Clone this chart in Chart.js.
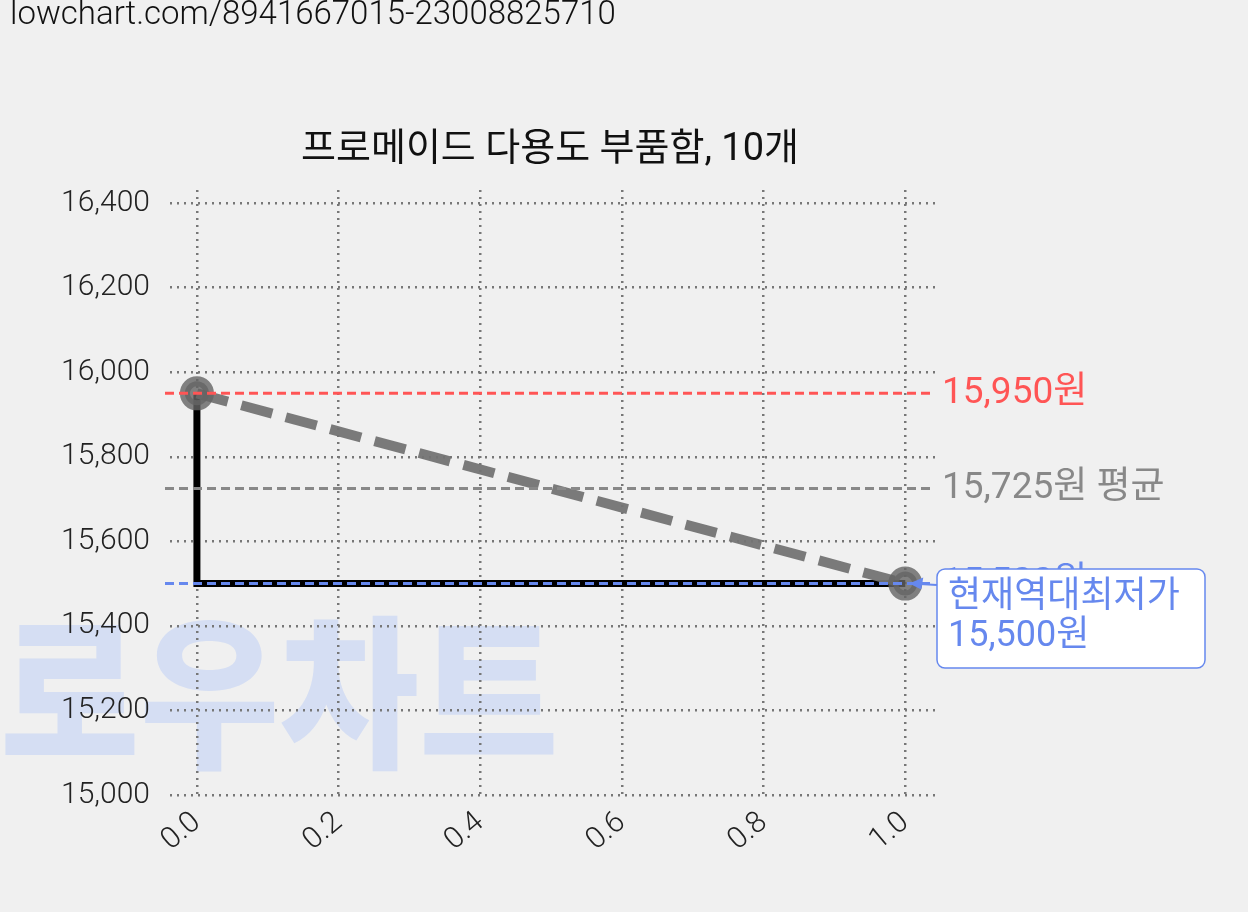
<!DOCTYPE html>
<html><head><meta charset="utf-8">
<script src="https://cdn.jsdelivr.net/npm/chart.js@4"></script>
<style>html,body{margin:0;padding:0;background:#f0f0f0}</style>
</head><body>
<canvas id="c" width="1248" height="912" style="width:1248px;height:912px"></canvas>
<script>
const headerText = "lowchart.com/8941667015-23008825710";
const titleText = "프로메이드 다용도 부품함, 10개";
const xTicks = [0, 0.2, 0.4, 0.6, 0.8, 1.0];
const yTicks = [15000, 15200, 15400, 15600, 15800, 16000, 16200, 16400];
const stepX = [0, 0, 1];
const stepY = [15950, 15500, 15500];
const trendX = [0, 1];
const trendY = [15950, 15500];
const maxPrice = 15950, avgPrice = 15725, minPrice = 15500;
const FONT = "Roboto, 'Noto Sans CJK KR', sans-serif";

const deco = {
  id: 'deco',
  beforeDraw(ch) {
    const c = ch.ctx; c.save();
    c.fillStyle = '#f0f0f0'; c.fillRect(0, 0, ch.width, ch.height);
    c.fillStyle = '#d5def3';
    c.font = "900 165px 'Noto Sans CJK KR'";
    c.textBaseline = 'alphabetic';
    c.save(); c.translate(0, 755); c.scale(0.92, 1.0); c.fillText('로우차트', 0, 0); c.restore();
    c.fillStyle = '#111'; c.font = "300 33px " + FONT;
    c.textBaseline = 'middle'; c.fillText(headerText, 10, 16);
    c.textAlign = 'center'; c.font = "38px " + FONT;
    c.fillText(titleText, 550, 150);
    c.restore();
  },
  afterDatasetsDraw(ch) {
    const c = ch.ctx, xs = ch.scales.x, ys = ch.scales.y;
    const L = 165, R = ch.chartArea.right;
    c.save();
    const line = (v, col) => {
      const y = ys.getPixelForValue(v);
      c.strokeStyle = col; c.lineWidth = 3; c.setLineDash([9, 5]);
      c.beginPath(); c.moveTo(L, y); c.lineTo(R, y); c.stroke();
      return y;
    };
    c.font = "37px " + FONT; c.textBaseline = 'middle';
    let y1 = line(maxPrice, '#ff5555'); c.fillStyle = '#ff5555'; c.fillText('15,950원', 942, y1);
    let y2 = line(avgPrice, '#888888'); c.fillStyle = '#888888'; c.fillText('15,725원 평균', 942, y2);
    let y3 = line(minPrice, '#6688ee'); c.fillStyle = '#6688ee'; c.fillText('15,500원', 942, y3);
    c.setLineDash([]);
    const bx = 937, by = 569, bw = 268, bh = 99;
    c.fillStyle = '#fff'; c.strokeStyle = '#6688ee'; c.lineWidth = 1.5;
    c.beginPath(); c.roundRect(bx, by, bw, bh, 8); c.fill(); c.stroke();
    c.fillStyle = '#6688ee'; c.font = "36px " + FONT;
    c.fillText('현재역대최저가', 948, 598); c.fillText('15,500원', 948, 637);
    const px = xs.getPixelForValue(1), py = ys.getPixelForValue(minPrice);
    c.strokeStyle = '#6688ee'; c.lineWidth = 2;
    c.beginPath(); c.moveTo(bx, 585); c.lineTo(px + 6, py); c.stroke();
    c.beginPath(); c.moveTo(px + 4, py); c.lineTo(px + 18, py - 6); c.lineTo(px + 16, py + 6); c.closePath(); c.fill();
    c.restore();
  }
};

const gridOpt = { color: '#777', lineWidth: 2.5, drawTicks: false };
const borderOpt = { display: false, dash: [2, 5] };
new Chart(document.getElementById('c'), {
  type: 'scatter',
  data: { datasets: [
    { data: stepX.map((x, i) => ({x, y: stepY[i]})), showLine: true, borderColor: '#000', borderWidth: 7, pointRadius: 0, order: 2 },
    { data: trendX.map((x, i) => ({x, y: trendY[i]})), showLine: true, borderColor: 'rgba(115,115,115,0.95)', borderWidth: 10, borderDash: [32, 14], pointRadius: 12, pointBackgroundColor: 'rgba(100,100,100,0.8)', pointBorderColor: 'rgba(100,100,100,0.8)', order: 1 }
  ]},
  options: {
    responsive: false, animation: false, devicePixelRatio: 1,
    layout: { padding: { top: 190, right: 313, left: 0, bottom: 0 } },
    plugins: { legend: { display: false }, tooltip: { enabled: false }, title: { display: false } },
    scales: {
      x: { type: 'linear', min: -0.038, max: 1.042,
        afterBuildTicks: s => { s.ticks = xTicks.map(v => ({value: v})); },
        afterFit: s => { s.height = 117; },
        border: borderOpt, grid: gridOpt,
        ticks: { callback: v => Number(v).toFixed(1), maxRotation: 40, minRotation: 40, color: '#222', font: { size: 30, family: FONT, weight: 300 }, padding: 10 } },
      y: { min: 15000, max: 16431,
        afterBuildTicks: s => { s.ticks = yTicks.map(v => ({value: v})); },
        afterFit: s => { s.width = 170; },
        border: borderOpt, grid: gridOpt,
        ticks: { callback: v => Number(v).toLocaleString('en-US'), color: '#222', font: { size: 30, family: FONT, weight: 300 }, padding: 20 } }
    }
  },
  plugins: [deco]
});
</script></body></html>
